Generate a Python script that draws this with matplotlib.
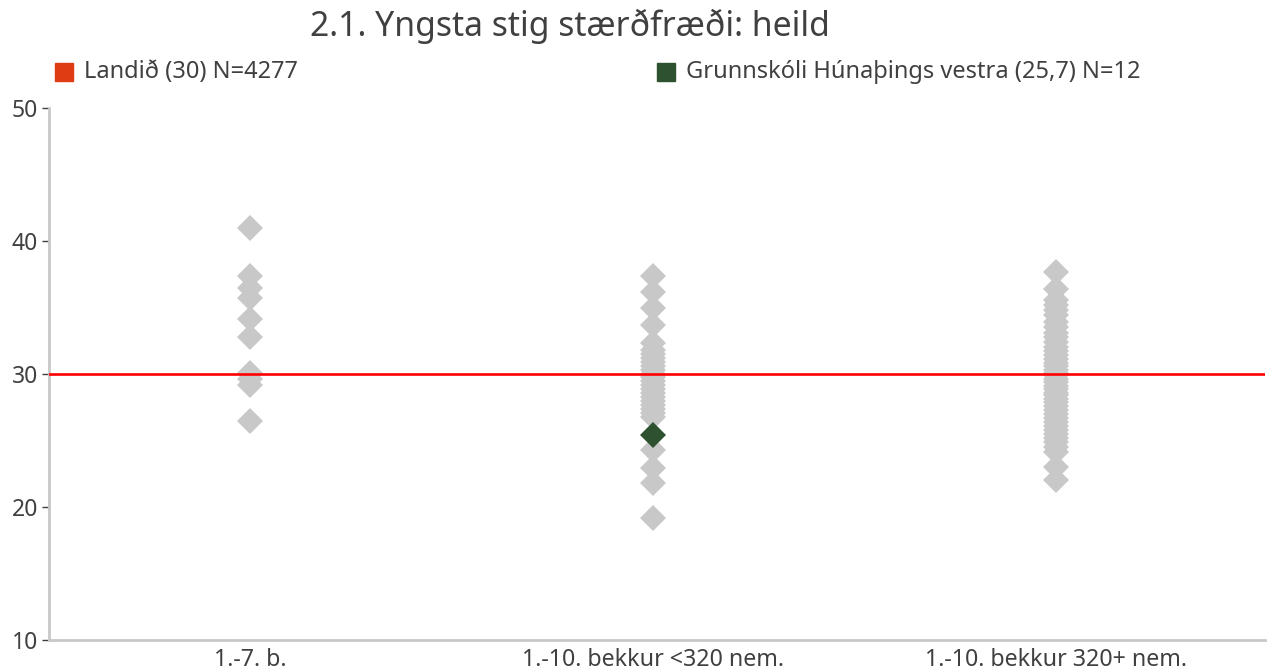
import matplotlib
matplotlib.use("Agg")
import matplotlib.pyplot as plt
from matplotlib.patches import Rectangle

plt.rcParams['font.family'] = ['Noto Sans', 'DejaVu Sans']

title = "2.1. Yngsta stig stærðfræði: heild"
categories = ["1.-7. b.", "1.-10. bekkur <320 nem.", "1.-10. bekkur 320+ nem."]

group1 = [41.0, 37.4, 36.5, 35.7, 34.1, 32.8, 30.1, 29.6, 29.2, 26.5]
group2 = [37.4, 36.2, 35.0, 33.7, 32.3, 31.8, 31.5, 31.2, 30.9, 30.6, 30.3, 30.0,
          29.8, 29.5, 29.2, 28.9, 28.6, 28.3, 28.0, 27.7, 27.4, 27.1, 26.8,
          24.3, 22.9, 21.8, 19.2]
group3 = [37.7, 36.4, 35.6, 35.2, 34.8, 34.4, 33.9, 33.5, 33.1, 32.8, 32.4, 32.0,
          31.7, 31.4, 31.1, 30.8, 30.6, 30.3, 30.1, 29.9, 29.6, 29.4, 29.1, 28.9,
          28.6, 28.4, 28.1, 27.9, 27.6, 27.3, 27.0, 26.7, 26.4, 26.1, 25.8, 25.5,
          25.2, 24.9, 24.5, 24.1, 23.0, 22.0]
groups = [group1, group2, group3]

national_value = 30
national_label = "Landið (30) N=4277"
school_label = "Grunnskóli Húnaþings vestra (25,7) N=12"
school_category = 1
school_value = 25.4

yticks = [10, 20, 30, 40, 50]

grey = "#C8C8C8"
text_col = "#404040"

fig = plt.figure(figsize=(12.74, 6.70), dpi=100)
ax = fig.add_axes([49/1274, 30/670, (1265-49)/1274, (640-108)/670])

for i, vals in enumerate(groups):
    ax.plot([i]*len(vals), vals, linestyle='none', marker='D', markersize=13,
            color=grey, markeredgewidth=0, zorder=2)

ax.axhline(national_value, color="#FF0000", linewidth=1.9, zorder=3)
ax.plot([school_category], [school_value], linestyle='none', marker='D', markersize=13.5,
        color="#2E5130", markeredgewidth=0, zorder=4)

ax.set_xlim(-0.499, 2.518)
ax.set_ylim(10, 50)
ax.set_yticks(yticks)
ax.set_xticks(range(len(categories)))
ax.set_xticklabels(categories)
ax.tick_params(axis='x', length=0, pad=6, labelsize=16.7, labelcolor=text_col)
ax.tick_params(axis='y', length=5, width=1, color=text_col, pad=3, labelsize=16.5,
               labelcolor=text_col)
for s in ['top', 'right']:
    ax.spines[s].set_visible(False)
for s in ['left', 'bottom']:
    ax.spines[s].set_color(grey)
    ax.spines[s].set_linewidth(2)

fig.text(570/1274, 1 - 26/670, title, ha='center', va='center', fontsize=24.3,
         color=text_col)

# legend
fig.patches.append(Rectangle((55/1274, 1 - 81/670), 18/1274, 18/670,
                             transform=fig.transFigure, color="#E03C14"))
fig.text(84/1274, 1 - 72/670, national_label, ha='left', va='center', fontsize=17,
         color=text_col)
fig.patches.append(Rectangle((657/1274, 1 - 81/670), 18/1274, 18/670,
                             transform=fig.transFigure, color="#2E5130"))
fig.text(686/1274, 1 - 72/670, school_label, ha='left', va='center', fontsize=17,
         color=text_col)

fig.savefig("out.png", dpi=100)
